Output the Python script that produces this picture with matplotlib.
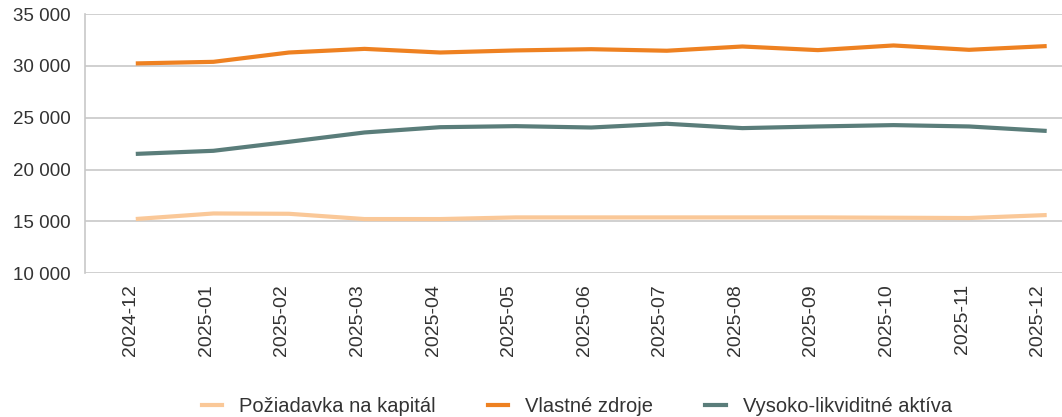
import numpy as np
import matplotlib.pyplot as plt
import matplotlib.ticker as tick
import matplotlib.transforms as mtrans

plt.rcParams['font.family'] = ['Liberation Sans', 'DejaVu Sans']

mesiace = ['2024-12', '2025-01', '2025-02', '2025-03', '2025-04', '2025-05', '2025-06',
           '2025-07', '2025-08', '2025-09', '2025-10', '2025-11', '2025-12']
poziadavka = [15240, 15760, 15730, 15220, 15220, 15380, 15380, 15380, 15380, 15380, 15350, 15320, 15600]
vlastne = [30250, 30400, 31300, 31650, 31300, 31500, 31620, 31470, 31880, 31530, 31980, 31560, 31910]
likvidne = [21520, 21810, 22680, 23580, 24090, 24190, 24060, 24420, 24000, 24160, 24290, 24160, 23740]

def fmt(v, pos):
    return f"{int(v):,}".replace(',', ' ')

fig = plt.figure(figsize=(10.62, 4.17), dpi=100)
ax = fig.add_axes([0.080, 0.345, 0.92, 0.621])
x = np.arange(len(mesiace))
ax.plot(x, poziadavka, color='#FAC898', lw=3, solid_joinstyle='round', label='Požiadavka na kapitál')
ax.plot(x, vlastne, color='#EE8121', lw=3, solid_joinstyle='round', label='Vlastné zdroje')
ax.plot(x, likvidne, color='#5A7D7A', lw=3, solid_joinstyle='round', label='Vysoko-likviditné aktíva')

ax.set_ylim(10000, 35000)
ax.set_xlim(-0.70, 12.23)
ax.yaxis.set_major_locator(tick.MultipleLocator(5000))
ax.yaxis.set_major_formatter(tick.FuncFormatter(fmt))
ax.set_xticks(x)
ax.set_xticklabels(mesiace, rotation=90)
ax.tick_params(axis='both', length=0, labelsize=13.5, colors='#333333')
ax.tick_params(axis='x', pad=8, labelsize=14)
ax.tick_params(axis='y', pad=10)
# popisky osi x su v originali mierne posunute dolava
posun = mtrans.ScaledTranslation(-7/100, 0, fig.dpi_scale_trans)
for lab in ax.get_xticklabels():
    lab.set_transform(lab.get_transform() + posun)
ax.grid(axis='y', color='#C8C8C8', lw=1.2)
ax.set_axisbelow(True)
for s in ['top', 'right', 'bottom']:
    ax.spines[s].set_visible(False)
ax.spines['left'].set_color('#C8C8C8')
ax.spines['left'].set_linewidth(1.2)

leg = fig.legend(loc='center', bbox_to_anchor=(0.543, 0.026), ncol=3, frameon=False, fontsize=14.5,
                 handlelength=1.0, columnspacing=2.6, handletextpad=0.85)
for t in leg.get_texts():
    t.set_color('#333333')
fig.savefig('out.png', dpi=100)
